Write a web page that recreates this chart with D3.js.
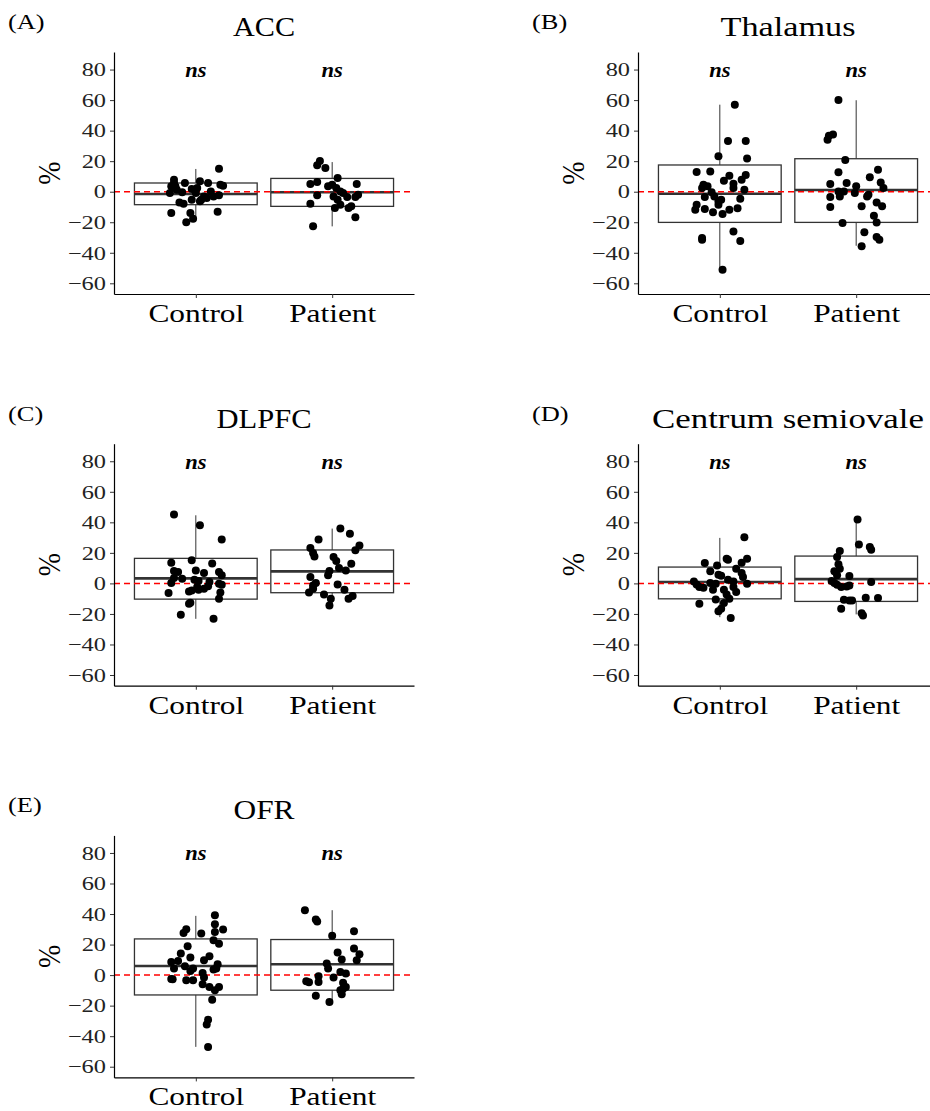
<!DOCTYPE html>
<html>
<head>
<meta charset="utf-8">
<script src="https://cdn.jsdelivr.net/npm/d3@7"></script>
<style>
body { margin: 0; background: #fff; }
svg { display: block; }
</style>
</head>
<body>
<script>
// regions, groups and ticks
var regions = ["ACC", "Thalamus", "DLPFC", "Centrum semiovale", "OFR"];
var panelTags = ["(A)", "(B)", "(C)", "(D)", "(E)"];
var groups = ["Control", "Patient"];
var yTicks = [-60, -40, -20, 0, 20, 40, 60, 80];
var sigLabels = ["ns", "ns"];

// box stats: [whisker low, q1, median, q3, whisker high]
var accControlBox = [-18, -8.5, -1.5, 5.7, 14.9];
var accPatientBox = [-22.7, -9.6, -0.4, 8.7, 19.4];
var thalControlBox = [-51, -20.1, -1.3, 17.5, 57];
var thalPatientBox = [-35.4, -20.1, 1.1, 21.6, 59.9];
var dlpfcControlBox = [-23.2, -10.3, 3.3, 16.4, 44.6];
var dlpfcPatientBox = [-14.4, -6.1, 7.9, 21.9, 35.9];
var csoControlBox = [-22.1, -10.1, 0.9, 10.7, 29.8];
var csoPatientBox = [-20.3, -11.8, 2.8, 17.9, 41.3];
var ofrControlBox = [-47, -13, 6, 23.7, 38.8];
var ofrPatientBox = [-17, -9.9, 7.1, 23.3, 42.5];

// individual values (%) and horizontal jitter (in category units)
var accControl = [15.1, -14, -20, -17.7, -14, -13.1, 7.9, 5.7, 3.5, 5.7, 1.3, -0.4, -7, -7.9, -5.2, 1.7, 2.4, 6.8, -5.2, -3.1, 5.7, 0.2, -3.1, -2.4, 4.6, 3.9, -4.2, -6.3, -0.9, 3.5, -0.9];
var accControlJit = [0.17, -0.18, -0.07, -0.02, -0.04, 0.16, -0.16, -0.16, -0.18, -0.08, -0.14, -0.10, -0.12, -0.09, -0.03, -0.03, 0.01, 0.03, 0.04, 0.06, 0.09, 0.11, 0.13, 0.17, 0.18, 0.20, 0.08, 0.03, 0.0, -0.15, -0.19];
var accPatient = [20.1, 17.3, 15.5, 5, 6.3, -2.4, -7.9, -22.7, 9, 3.5, 4.6, 2.4, 0.2, -0.9, 5, -2, -3.5, -3.5, -5.2, -8.5, -10.7, -10.7, -9.6, -16.8, -3.1];
var accPatientJit = [-0.09, -0.11, -0.05, -0.16, -0.11, -0.11, -0.16, -0.14, 0.04, -0.03, 0.0, 0.03, 0.06, 0.08, 0.18, 0.19, 0.17, 0.11, 0.04, 0.06, 0.02, 0.12, 0.14, 0.17, 0.01];

var thalControl = [57, -51.1, 33.2, 33.2, 21.8, 23.2, 12.9, 13.3, -30.4, -31.5, -26, -32.3, -11.8, -8.5, -11.4, -13.5, -14.6, -11.8, -10.9, -8.5, -5.2, -3.1, -3.5, 4.6, 2.4, 3.5, 7.2, 10.5, 5.2, 2.4, 7.9, 10.9, 1.3, -4.6, -6.3, -0.4];
var thalControlJit = [0.11, 0.02, 0.06, 0.19, 0.20, -0.01, -0.17, -0.07, -0.13, -0.13, 0.10, 0.15, -0.18, -0.17, -0.11, -0.05, 0.02, 0.07, 0.13, -0.01, 0.01, -0.04, -0.11, -0.12, -0.13, -0.09, 0.03, 0.07, 0.10, 0.10, 0.16, 0.19, 0.18, 0.15, -0.01, -0.06];
var thalPatient = [60, 36.7, 37.4, 34.1, 20.8, 12.7, 5, 5.7, -3.5, -10, 0.2, -3.1, -20.5, 0.2, 3.5, -0.9, -9.6, -35.8, -26.6, -3.1, -2, 9.4, 14.4, 6.1, 2.4, -7, -9.6, -15.7, -20.1, -29.7, -31.5];
var thalPatientJit = [-0.13, -0.20, -0.17, -0.21, -0.08, -0.13, -0.19, -0.07, -0.19, -0.19, -0.13, -0.12, -0.10, -0.09, 0.0, -0.01, 0.04, 0.04, 0.06, 0.08, 0.09, 0.10, 0.16, 0.18, 0.20, 0.15, 0.19, 0.13, 0.15, 0.15, 0.17];

var dlpfcControl = [45.1, 38.1, 28.7, 13.6, 15.1, 13.1, 8.1, 7.4, 8.5, 6.8, 7.4, 5.3, 3.1, 3.5, 0.2, 2.4, 0.9, -0.2, -0.9, -2.4, -4.6, -5.3, -4.2, -3.5, -1.8, -6.3, -5.9, -10.1, -12.7, -13.3, -20.6, -23.2, 1.5];
var dlpfcControlJit = [-0.16, 0.03, 0.19, -0.18, -0.03, 0.12, -0.16, -0.13, 0.0, 0.06, 0.17, 0.19, -0.10, -0.16, -0.18, -0.01, 0.10, 0.17, 0.19, 0.01, -0.03, -0.05, 0.02, 0.06, 0.09, -0.20, 0.18, 0.17, -0.04, -0.05, -0.11, 0.13, 0.02];
var dlpfcPatient = [35.9, 32.6, 28.7, 23.2, 19.9, 17.7, 24.9, 21.7, 17.3, 14.7, 12.9, 10.1, 8.5, 8.1, 5.3, 4.2, 0.2, -1.3, -3.5, -5.9, -0.7, -4.2, -7.2, -10.1, -14.4, -10.1, -8.3];
var dlpfcPatientJit = [0.06, 0.13, -0.10, -0.16, -0.14, -0.13, 0.20, 0.17, 0.01, 0.03, 0.14, 0.05, 0.10, -0.02, -0.03, -0.16, -0.12, -0.14, -0.14, -0.17, 0.04, 0.09, -0.06, -0.01, -0.02, 0.12, 0.15];

var csoControl = [30.2, 16.2, 13.6, 16.2, 15.5, 13.3, 11.8, 7.9, 5.7, 5.0, 9.6, 6.8, 4.2, 1.3, -0.7, -2.4, -2.8, 0.2, -0.2, -4.2, -4.2, 2.4, 1.3, -2.4, -5.7, -0.2, -10.5, -12.9, -10.1, -13.3, -18.2, -16.6, -22.7, -7.2];
var csoControlJit = [0.18, 0.20, 0.16, 0.05, 0.06, -0.11, -0.02, -0.07, -0.01, 0.01, 0.12, 0.16, 0.17, -0.19, -0.17, -0.15, -0.12, -0.07, -0.03, -0.05, 0.03, 0.06, 0.10, 0.10, 0.12, 0.20, -0.03, 0.03, 0.07, -0.15, -0.01, 0.01, 0.08, 0.05];
var csoPatient = [41.8, 25.4, 23.8, 22.1, 21.2, 17.3, 12.5, 9.6, 7.9, 5.3, 4.8, 1.5, 0.2, -0.9, -2.4, -2.0, -1.3, 0.9, -10.7, -11.2, -11.2, -9.4, -9.6, -16.6, -19.5, -21.0];
var csoPatientJit = [0.01, 0.02, 0.10, 0.11, -0.12, -0.14, -0.13, -0.12, -0.16, -0.14, -0.05, -0.18, -0.16, -0.14, -0.11, -0.07, -0.05, 0.11, -0.09, -0.05, -0.03, 0.07, 0.16, -0.11, 0.04, 0.05];

var ofrControl = [39.2, 33.3, 29.8, 30.0, 27.6, 27.2, 28.3, 22.8, 20.6, 18.9, 14.1, 11.5, 9.3, 8.6, 4.3, 5.8, 4.3, 2.7, 9.7, 12.3, 7.1, 4.3, 3.6, 1.4, -2.5, -2.7, -3.4, -3.4, -1.6, -6.0, -7.8, -10, -7.8, -16.1, -29.2, -32.3, -47.1];
var ofrControlJit = [0.14, 0.14, 0.20, -0.07, -0.09, 0.04, 0.14, 0.13, 0.17, -0.06, -0.11, -0.04, -0.13, -0.18, -0.16, -0.08, -0.02, -0.04, 0.06, 0.10, 0.16, 0.15, 0.13, 0.05, -0.18, -0.17, -0.07, -0.02, 0.06, 0.05, 0.10, 0.14, 0.17, 0.12, 0.09, 0.08, 0.09];
var ofrPatient = [42.5, 36.4, 35.1, 25.7, 28.8, 17.4, 14.8, 13.7, 9.7, 10.2, 7.6, 4.3, 2.1, 1.0, -0.8, -1.6, -4, -4.7, -4.5, -5, -7.8, -8.9, -10, -13.5, -12.6, -17.6];
var ofrPatientJit = [-0.20, -0.12, -0.11, 0.0, 0.16, 0.16, 0.04, 0.20, 0.18, 0.07, -0.04, -0.03, 0.06, 0.10, -0.10, 0.01, -0.19, -0.17, -0.10, 0.08, 0.10, 0.08, 0.06, -0.12, 0.07, -0.02];

var panels = [
    {vals: [accControl, accPatient], jit: [accControlJit, accPatientJit], box: [accControlBox, accPatientBox]},
    {vals: [thalControl, thalPatient], jit: [thalControlJit, thalPatientJit], box: [thalControlBox, thalPatientBox]},
    {vals: [dlpfcControl, dlpfcPatient], jit: [dlpfcControlJit, dlpfcPatientJit], box: [dlpfcControlBox, dlpfcPatientBox]},
    {vals: [csoControl, csoPatient], jit: [csoControlJit, csoPatientJit], box: [csoControlBox, csoPatientBox]},
    {vals: [ofrControl, ofrPatient], jit: [ofrControlJit, ofrPatientJit], box: [ofrControlBox, ofrPatientBox]}
];

var w = 930, h = 1111;
var pw = 300, ph = 242;
var serif = "'Liberation Serif', 'Times New Roman', serif";
var ink = "#333";
// the picture's text is drawn wider than a plain Times face
var titleWidths = [62, 135, 95, 272, 61];

var svg = d3.select("body").append("svg")
    .attr("width", w)
    .attr("height", h);

function wide(px, py, sx) {
    return "translate(" + px + "," + py + ") scale(" + sx + ",1)";
}

panels.forEach(function(p, i) {
    var col = i % 2, row = Math.floor(i / 2);
    var left = 114 + col * 524;
    var top = 52 + row * 391.7;

    var x = d3.scalePoint().domain(groups).range([left, left + pw]).padding(0.6);
    var y = d3.scaleLinear().domain([-67, 91.5]).range([top + ph, top]);
    var step = x.step();
    var boxW = step * 0.9;

    var g = svg.append("g");

    // panel tag and title
    g.append("text")
        .attr("transform", wide(left - 106, top - 23, 1.2))
        .attr("font-family", serif)
        .attr("font-size", "22px")
        .text(panelTags[i]);

    g.append("text")
        .attr("x", left + pw / 2 - titleWidths[i] / 2)
        .attr("y", top - 16)
        .attr("textLength", titleWidths[i])
        .attr("lengthAdjust", "spacingAndGlyphs")
        .attr("font-family", serif)
        .attr("font-size", "27.5px")
        .text(regions[i]);

    // boxes
    groups.forEach(function(gr, k) {
        var b = p.box[k];
        var cx = x(gr);
        g.append("line")
            .attr("x1", cx).attr("x2", cx)
            .attr("y1", y(b[4])).attr("y2", y(b[3]))
            .attr("stroke", ink).attr("stroke-width", 1);
        g.append("line")
            .attr("x1", cx).attr("x2", cx)
            .attr("y1", y(b[1])).attr("y2", y(b[0]))
            .attr("stroke", ink).attr("stroke-width", 1);
        g.append("rect")
            .attr("x", cx - boxW / 2)
            .attr("y", y(b[3]))
            .attr("width", boxW)
            .attr("height", y(b[1]) - y(b[3]))
            .attr("fill", "none")
            .attr("stroke", ink)
            .attr("stroke-width", 1.3);
        g.append("line")
            .attr("x1", cx - boxW / 2).attr("x2", cx + boxW / 2)
            .attr("y1", y(b[2])).attr("y2", y(b[2]))
            .attr("stroke", ink).attr("stroke-width", 2.6);
    });

    // zero reference
    g.append("line")
        .attr("x1", left).attr("x2", left + pw)
        .attr("y1", y(0)).attr("y2", y(0))
        .attr("stroke", "red")
        .attr("stroke-width", 1.5)
        .attr("stroke-dasharray", "6,4");

    // points
    groups.forEach(function(gr, k) {
        var pts = p.vals[k].map(function(v, j) { return {v: v, j: p.jit[k][j]}; });
        g.selectAll(null)
            .data(pts)
            .enter()
            .append("circle")
            .attr("cx", function(d) { return x(gr) + d.j * step; })
            .attr("cy", function(d) { return y(d.v); })
            .attr("r", 4)
            .attr("fill", "black");
    });

    // significance labels
    groups.forEach(function(gr, k) {
        g.append("text")
            .attr("transform", wide(x(gr), top + 25, 1.1))
            .attr("text-anchor", "middle")
            .attr("font-family", serif)
            .attr("font-style", "italic")
            .attr("font-weight", "bold")
            .attr("font-size", "20.5px")
            .text(sigLabels[k]);
    });

    // axes
    var ya = g.append("g")
        .attr("transform", "translate(" + left + ",0)")
        .call(d3.axisLeft(y).tickValues(yTicks).tickSize(4).tickSizeOuter(0));
    ya.selectAll("text")
        .attr("x", 0)
        .attr("transform", wide(-8, 0, 1.25))
        .attr("font-family", serif)
        .attr("font-size", "19.5px")
        .attr("fill", "#222");

    var xa = g.append("g")
        .attr("transform", "translate(0," + (top + ph) + ")")
        .call(d3.axisBottom(x).tickSize(4).tickSizeOuter(0));
    xa.selectAll("text")
        .attr("y", 0)
        .attr("dy", 0)
        .attr("transform", wide(0, 28, 1.23))
        .attr("font-family", serif)
        .attr("font-size", "25.5px")
        .attr("fill", "black");

    [ya, xa].forEach(function(a) {
        a.select(".domain").attr("stroke", "black").attr("stroke-width", 1.2);
        a.selectAll(".tick line").attr("stroke", ink);
    });

    g.append("text")
        .attr("transform", wide(left - 54, top + ph / 2, 1.15) + " rotate(-90)")
        .attr("text-anchor", "middle")
        .attr("font-family", serif)
        .attr("font-size", "28px")
        .text("%");
});
</script>
</body>
</html>
